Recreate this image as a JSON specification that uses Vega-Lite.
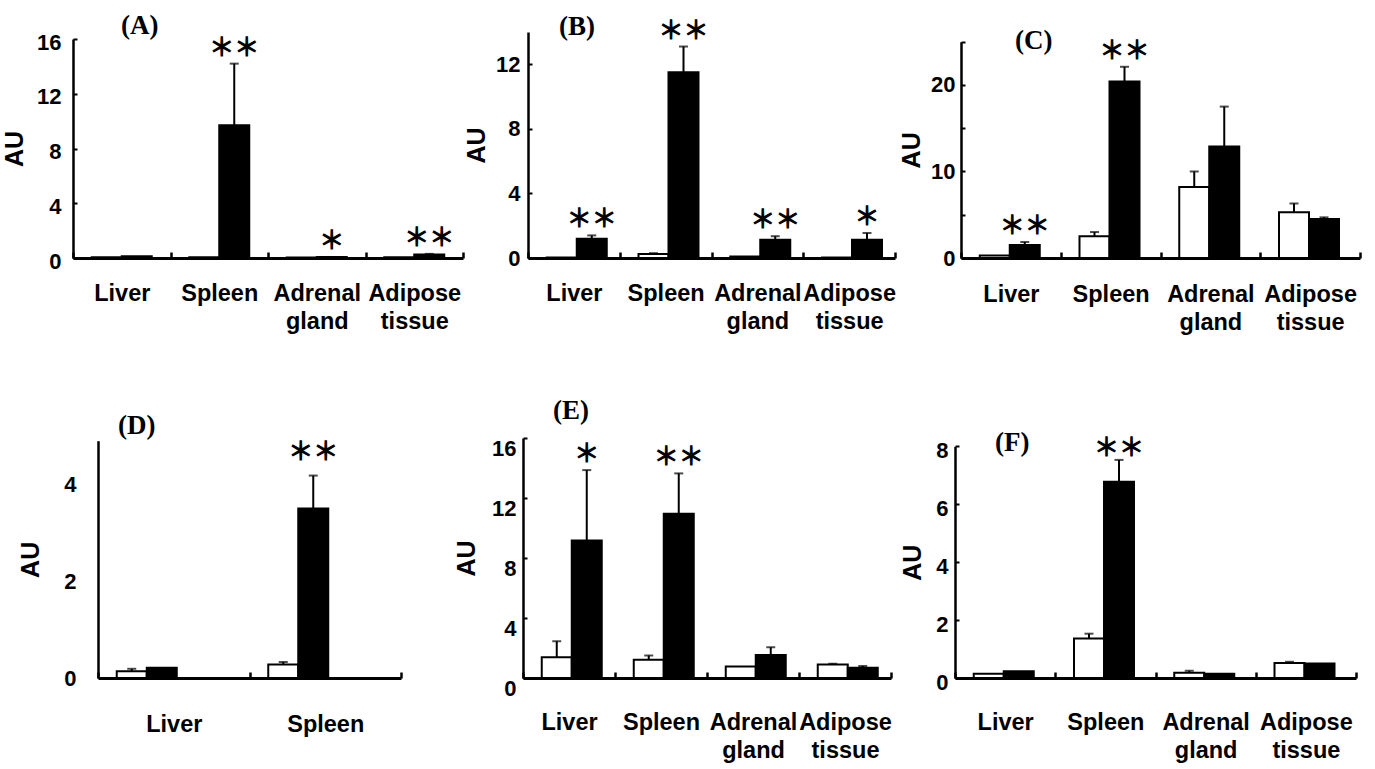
{
  "$schema": "https://vega.github.io/schema/vega-lite/v6.json",
  "background": "white",
  "padding": {"left": 2, "top": 12, "right": 5, "bottom": 5},
  "config": {
    "view": {"stroke": null},
    "axis": {"domainColor": "black", "tickColor": "black", "labelColor": "black", "titleColor": "black", "labelFont": "Liberation Sans", "titleFont": "Liberation Sans", "labelFontWeight": "bold", "titleFontWeight": "bold", "grid": false, "labelOverlap": false},
    "axisX": {"labelFontSize": 23.5, "domainWidth": 3, "tickWidth": 2.5, "tickSize": -6, "labelLineHeight": 28, "labelAngle": 0, "tickBand": "extent"},
    "axisY": {"labelFontSize": 22, "titleFontSize": 25, "domainWidth": 2.5, "tickWidth": 2, "tickSize": -4, "labelFlush": false},
    "title": {"anchor": "start", "frame": "group", "font": "Liberation Serif", "fontSize": 27, "fontWeight": "bold", "color": "black", "offset": 0},
    "text": {"font": "Noto Sans CJK JP", "fontSize": 25, "color": "black", "stroke": "black", "strokeWidth": 1.1}
  },
  "datasets": {
    "A": [
      {"tissue": "Liver", "group": "control", "mean": 0.05, "hi": 0.05, "star": ""},
      {"tissue": "Liver", "group": "treated", "mean": 0.12, "hi": 0.12, "star": ""},
      {"tissue": "Spleen", "group": "control", "mean": 0.05, "hi": 0.05, "star": ""},
      {"tissue": "Spleen", "group": "treated", "mean": 9.7, "hi": 14.2, "star": "＊＊"},
      {"tissue": "Adrenal gland", "group": "control", "mean": 0.04, "hi": 0.04, "star": ""},
      {"tissue": "Adrenal gland", "group": "treated", "mean": 0.07, "hi": 0.07, "star": "＊"},
      {"tissue": "Adipose tissue", "group": "control", "mean": 0.05, "hi": 0.05, "star": ""},
      {"tissue": "Adipose tissue", "group": "treated", "mean": 0.25, "hi": 0.3, "star": "＊＊"}
    ],
    "B": [
      {"tissue": "Liver", "group": "control", "mean": 0.03, "hi": 0.03, "star": ""},
      {"tissue": "Liver", "group": "treated", "mean": 1.2, "hi": 1.4, "star": "＊＊"},
      {"tissue": "Spleen", "group": "control", "mean": 0.25, "hi": 0.3, "star": ""},
      {"tissue": "Spleen", "group": "treated", "mean": 11.5, "hi": 13.1, "star": "＊＊"},
      {"tissue": "Adrenal gland", "group": "control", "mean": 0.1, "hi": 0.1, "star": ""},
      {"tissue": "Adrenal gland", "group": "treated", "mean": 1.13, "hi": 1.35, "star": "＊＊"},
      {"tissue": "Adipose tissue", "group": "control", "mean": 0.03, "hi": 0.03, "star": ""},
      {"tissue": "Adipose tissue", "group": "treated", "mean": 1.13, "hi": 1.55, "star": "＊"}
    ],
    "C": [
      {"tissue": "Liver", "group": "control", "mean": 0.3, "hi": 0.3, "star": ""},
      {"tissue": "Liver", "group": "treated", "mean": 1.5, "hi": 1.85, "star": "＊＊"},
      {"tissue": "Spleen", "group": "control", "mean": 2.5, "hi": 3.0, "star": ""},
      {"tissue": "Spleen", "group": "treated", "mean": 20.4, "hi": 22.1, "star": "＊＊"},
      {"tissue": "Adrenal gland", "group": "control", "mean": 8.2, "hi": 10.0, "star": ""},
      {"tissue": "Adrenal gland", "group": "treated", "mean": 12.9, "hi": 17.5, "star": ""},
      {"tissue": "Adipose tissue", "group": "control", "mean": 5.3, "hi": 6.3, "star": ""},
      {"tissue": "Adipose tissue", "group": "treated", "mean": 4.5, "hi": 4.7, "star": ""}
    ],
    "D": [
      {"tissue": "Liver", "group": "control", "mean": 0.14, "hi": 0.19, "star": ""},
      {"tissue": "Liver", "group": "treated", "mean": 0.21, "hi": 0.21, "star": ""},
      {"tissue": "Spleen", "group": "control", "mean": 0.28, "hi": 0.33, "star": ""},
      {"tissue": "Spleen", "group": "treated", "mean": 3.5, "hi": 4.18, "star": "＊＊"}
    ],
    "E": [
      {"tissue": "Liver", "group": "control", "mean": 1.39, "hi": 2.45, "star": ""},
      {"tissue": "Liver", "group": "treated", "mean": 9.16, "hi": 13.86, "star": "＊"},
      {"tissue": "Spleen", "group": "control", "mean": 1.21, "hi": 1.5, "star": ""},
      {"tissue": "Spleen", "group": "treated", "mean": 10.95, "hi": 13.64, "star": "＊＊"},
      {"tissue": "Adrenal gland", "group": "control", "mean": 0.77, "hi": 0.77, "star": ""},
      {"tissue": "Adrenal gland", "group": "treated", "mean": 1.54, "hi": 2.05, "star": ""},
      {"tissue": "Adipose tissue", "group": "control", "mean": 0.9, "hi": 0.95, "star": ""},
      {"tissue": "Adipose tissue", "group": "treated", "mean": 0.68, "hi": 0.8, "star": ""}
    ],
    "F": [
      {"tissue": "Liver", "group": "control", "mean": 0.15, "hi": 0.15, "star": ""},
      {"tissue": "Liver", "group": "treated", "mean": 0.23, "hi": 0.23, "star": ""},
      {"tissue": "Spleen", "group": "control", "mean": 1.36, "hi": 1.53, "star": ""},
      {"tissue": "Spleen", "group": "treated", "mean": 6.78, "hi": 7.53, "star": "＊＊"},
      {"tissue": "Adrenal gland", "group": "control", "mean": 0.18, "hi": 0.25, "star": ""},
      {"tissue": "Adrenal gland", "group": "treated", "mean": 0.15, "hi": 0.15, "star": ""},
      {"tissue": "Adipose tissue", "group": "control", "mean": 0.52, "hi": 0.56, "star": ""},
      {"tissue": "Adipose tissue", "group": "treated", "mean": 0.5, "hi": 0.5, "star": ""}
    ]
  },
  "concat": [
    {
      "width": 390, "height": 226,
      "title": {"text": "(A)", "dx": 48, "dy": 13},
      "data": {"name": "A"},
      "encoding": {
        "x": {"field": "tissue", "type": "nominal", "sort": ["Liver", "Spleen", "Adrenal gland", "Adipose tissue"], "scale": {"paddingInner": 0, "paddingOuter": 0, "range": [0, 390]}, "title": null, "axis": {"labelExpr": "split(datum.label, ' ')", "labelPadding": 29}},
        "xOffset": {"field": "group", "type": "nominal", "sort": ["control", "treated"], "scale": {"paddingInner": 0, "paddingOuter": 0.625}}
      },
      "layer": [
        {"mark": {"type": "bar", "stroke": "black", "strokeWidth": 2}, "encoding": {"y": {"field": "mean", "type": "quantitative", "title": "AU", "scale": {"domain": [0, 16], "range": [226, 7], "nice": false}, "axis": {"values": [0, 4, 8, 12, 16], "labelOffset": 3, "labelPadding": 16, "titlePadding": 9}}, "color": {"field": "group", "type": "nominal", "scale": {"domain": ["control", "treated"], "range": ["white", "black"]}, "legend": null}}},
        {"transform": [{"filter": "datum.hi > datum.mean"}], "mark": {"type": "rule", "color": "black", "strokeWidth": 2}, "encoding": {"y": {"field": "mean", "type": "quantitative", "title": "AU"}, "y2": {"field": "hi"}}},
        {"transform": [{"filter": "datum.hi > datum.mean"}], "mark": {"type": "tick", "color": "black", "thickness": 2, "size": 9}, "encoding": {"y": {"field": "hi", "type": "quantitative", "title": "AU"}}},
        {"transform": [{"filter": "datum.star != ''"}], "mark": {"type": "text", "dy": -16}, "encoding": {"y": {"field": "hi", "type": "quantitative", "title": "AU"}, "text": {"field": "star"}}}
      ]
    },
    {
      "width": 372, "height": 226,
      "title": {"text": "(B)", "dx": 36, "dy": 26},
      "data": {"name": "B"},
      "encoding": {
        "x": {"field": "tissue", "type": "nominal", "sort": ["Liver", "Spleen", "Adrenal gland", "Adipose tissue"], "scale": {"paddingInner": 0, "paddingOuter": 0, "range": [5, 372]}, "title": null, "axis": {"labelExpr": "split(datum.label, ' ')", "labelPadding": 29}},
        "xOffset": {"field": "group", "type": "nominal", "sort": ["control", "treated"], "scale": {"paddingInner": 0, "paddingOuter": 0.638}}
      },
      "layer": [
        {"mark": {"type": "bar", "stroke": "black", "strokeWidth": 2}, "encoding": {"y": {"field": "mean", "type": "quantitative", "title": "AU", "scale": {"domain": [0, 14], "range": [226, 0], "nice": false}, "axis": {"values": [0, 2, 4, 6, 8, 10, 12, 14], "labelExpr": "datum.value % 4 === 0 ? datum.label : ''", "offset": -5, "labelPadding": 12, "titlePadding": 6}}, "color": {"field": "group", "type": "nominal", "scale": {"domain": ["control", "treated"], "range": ["white", "black"]}, "legend": null}}},
        {"transform": [{"filter": "datum.hi > datum.mean"}], "mark": {"type": "rule", "color": "black", "strokeWidth": 2}, "encoding": {"y": {"field": "mean", "type": "quantitative", "title": "AU"}, "y2": {"field": "hi"}}},
        {"transform": [{"filter": "datum.hi > datum.mean"}], "mark": {"type": "tick", "color": "black", "thickness": 2, "size": 9}, "encoding": {"y": {"field": "hi", "type": "quantitative", "title": "AU"}}},
        {"transform": [{"filter": "datum.star != ''"}], "mark": {"type": "text", "dy": -16}, "encoding": {"y": {"field": "hi", "type": "quantitative", "title": "AU"}, "text": {"field": "star"}}}
      ]
    },
    {
      "width": 405, "height": 226,
      "title": {"text": "(C)", "dx": 60, "dy": 28},
      "data": {"name": "C"},
      "encoding": {
        "x": {"field": "tissue", "type": "nominal", "sort": ["Liver", "Spleen", "Adrenal gland", "Adipose tissue"], "scale": {"paddingInner": 0, "paddingOuter": 0, "range": [6, 405]}, "title": null, "axis": {"labelExpr": "split(datum.label, ' ')", "labelPadding": 30}},
        "xOffset": {"field": "group", "type": "nominal", "sort": ["control", "treated"], "scale": {"paddingInner": 0, "paddingOuter": 0.66}}
      },
      "layer": [
        {"mark": {"type": "bar", "stroke": "black", "strokeWidth": 2}, "encoding": {"y": {"field": "mean", "type": "quantitative", "title": "AU", "scale": {"domain": [0, 25], "range": [226, 9.7], "nice": false}, "axis": {"values": [0, 5, 10, 15, 20, 25], "labelExpr": "datum.value % 10 === 0 ? datum.label : ''", "offset": -6, "labelPadding": 10, "titlePadding": 6}}, "color": {"field": "group", "type": "nominal", "scale": {"domain": ["control", "treated"], "range": ["white", "black"]}, "legend": null}}},
        {"transform": [{"filter": "datum.hi > datum.mean"}], "mark": {"type": "rule", "color": "black", "strokeWidth": 2}, "encoding": {"y": {"field": "mean", "type": "quantitative", "title": "AU"}, "y2": {"field": "hi"}}},
        {"transform": [{"filter": "datum.hi > datum.mean"}], "mark": {"type": "tick", "color": "black", "thickness": 2, "size": 9}, "encoding": {"y": {"field": "hi", "type": "quantitative", "title": "AU"}}},
        {"transform": [{"filter": "datum.star != ''"}], "mark": {"type": "text", "dy": -16}, "encoding": {"y": {"field": "hi", "type": "quantitative", "title": "AU"}, "text": {"field": "star"}}}
      ]
    },
    {
      "width": 390, "height": 240,
      "title": {"text": "(D)", "dx": 45, "dy": 6},
      "data": {"name": "D"},
      "encoding": {
        "x": {"field": "tissue", "type": "nominal", "sort": ["Liver", "Spleen"], "scale": {"paddingInner": 0, "paddingOuter": 0, "range": [25, 328]}, "title": null, "axis": {"labelExpr": "split(datum.label, ' ')", "labelPadding": 40}},
        "xOffset": {"field": "group", "type": "nominal", "sort": ["control", "treated"], "scale": {"paddingInner": 0, "paddingOuter": 0.76}}
      },
      "layer": [
        {"mark": {"type": "bar", "stroke": "black", "strokeWidth": 2}, "encoding": {"y": {"field": "mean", "type": "quantitative", "title": "AU", "scale": {"domain": [0, 4.9], "range": [240, 2.7], "nice": false}, "axis": {"values": [0, 2, 4], "offset": -25, "tickSize": 0, "labelPadding": 22, "titlePadding": 20}}, "color": {"field": "group", "type": "nominal", "scale": {"domain": ["control", "treated"], "range": ["white", "black"]}, "legend": null}}},
        {"transform": [{"filter": "datum.hi > datum.mean"}], "mark": {"type": "rule", "color": "black", "strokeWidth": 2}, "encoding": {"y": {"field": "mean", "type": "quantitative", "title": "AU"}, "y2": {"field": "hi"}}},
        {"transform": [{"filter": "datum.hi > datum.mean"}], "mark": {"type": "tick", "color": "black", "thickness": 2, "size": 9}, "encoding": {"y": {"field": "hi", "type": "quantitative", "title": "AU"}}},
        {"transform": [{"filter": "datum.star != ''"}], "mark": {"type": "text", "dy": -24}, "encoding": {"y": {"field": "hi", "type": "quantitative", "title": "AU"}, "text": {"field": "star"}}}
      ]
    },
    {
      "width": 372, "height": 240,
      "title": {"text": "(E)", "dx": 30, "dy": -8},
      "data": {"name": "E"},
      "encoding": {
        "x": {"field": "tissue", "type": "nominal", "sort": ["Liver", "Spleen", "Adrenal gland", "Adipose tissue"], "scale": {"paddingInner": 0, "paddingOuter": 0, "range": [0, 368]}, "title": null, "axis": {"labelExpr": "split(datum.label, ' ')", "labelPadding": 38}},
        "xOffset": {"field": "group", "type": "nominal", "sort": ["control", "treated"], "scale": {"paddingInner": 0, "paddingOuter": 0.64}}
      },
      "layer": [
        {"mark": {"type": "bar", "stroke": "black", "strokeWidth": 2}, "encoding": {"y": {"field": "mean", "type": "quantitative", "title": "AU", "scale": {"domain": [0, 16], "range": [240, 0], "nice": false}, "axis": {"values": [0, 4, 8, 12, 16], "labelOffset": 10, "labelPadding": 11, "titlePadding": 12}}, "color": {"field": "group", "type": "nominal", "scale": {"domain": ["control", "treated"], "range": ["white", "black"]}, "legend": null}}},
        {"transform": [{"filter": "datum.hi > datum.mean"}], "mark": {"type": "rule", "color": "black", "strokeWidth": 2}, "encoding": {"y": {"field": "mean", "type": "quantitative", "title": "AU"}, "y2": {"field": "hi"}}},
        {"transform": [{"filter": "datum.hi > datum.mean"}], "mark": {"type": "tick", "color": "black", "thickness": 2, "size": 9}, "encoding": {"y": {"field": "hi", "type": "quantitative", "title": "AU"}}},
        {"transform": [{"filter": "datum.star != ''"}], "mark": {"type": "text", "dy": -16}, "encoding": {"y": {"field": "hi", "type": "quantitative", "title": "AU"}, "text": {"field": "star"}}}
      ]
    },
    {
      "width": 405, "height": 240,
      "title": {"text": "(F)", "dx": 40, "dy": 25},
      "data": {"name": "F"},
      "encoding": {
        "x": {"field": "tissue", "type": "nominal", "sort": ["Liver", "Spleen", "Adrenal gland", "Adipose tissue"], "scale": {"paddingInner": 0, "paddingOuter": 0, "range": [0, 401]}, "title": null, "axis": {"labelExpr": "split(datum.label, ' ')", "labelPadding": 38}},
        "xOffset": {"field": "group", "type": "nominal", "sort": ["control", "treated"], "scale": {"paddingInner": 0, "paddingOuter": 0.67}}
      },
      "layer": [
        {"mark": {"type": "bar", "stroke": "black", "strokeWidth": 2}, "encoding": {"y": {"field": "mean", "type": "quantitative", "title": "AU", "scale": {"domain": [0, 8], "range": [240, 8.3], "nice": false}, "axis": {"values": [0, 1, 2, 3, 4, 5, 6, 7, 8], "labelExpr": "datum.value % 2 === 0 ? datum.label : ''", "labelOffset": 4, "labelPadding": 11, "titlePadding": 10}}, "color": {"field": "group", "type": "nominal", "scale": {"domain": ["control", "treated"], "range": ["white", "black"]}, "legend": null}}},
        {"transform": [{"filter": "datum.hi > datum.mean"}], "mark": {"type": "rule", "color": "black", "strokeWidth": 2}, "encoding": {"y": {"field": "mean", "type": "quantitative", "title": "AU"}, "y2": {"field": "hi"}}},
        {"transform": [{"filter": "datum.hi > datum.mean"}], "mark": {"type": "tick", "color": "black", "thickness": 2, "size": 9}, "encoding": {"y": {"field": "hi", "type": "quantitative", "title": "AU"}}},
        {"transform": [{"filter": "datum.star != ''"}], "mark": {"type": "text", "dy": -12}, "encoding": {"y": {"field": "hi", "type": "quantitative", "title": "AU"}, "text": {"field": "star"}}}
      ]
    }
  ],
  "columns": 3,
  "spacing": {"row": 180, "column": 60},
  "bounds": "flush",
  "align": "each"
}
